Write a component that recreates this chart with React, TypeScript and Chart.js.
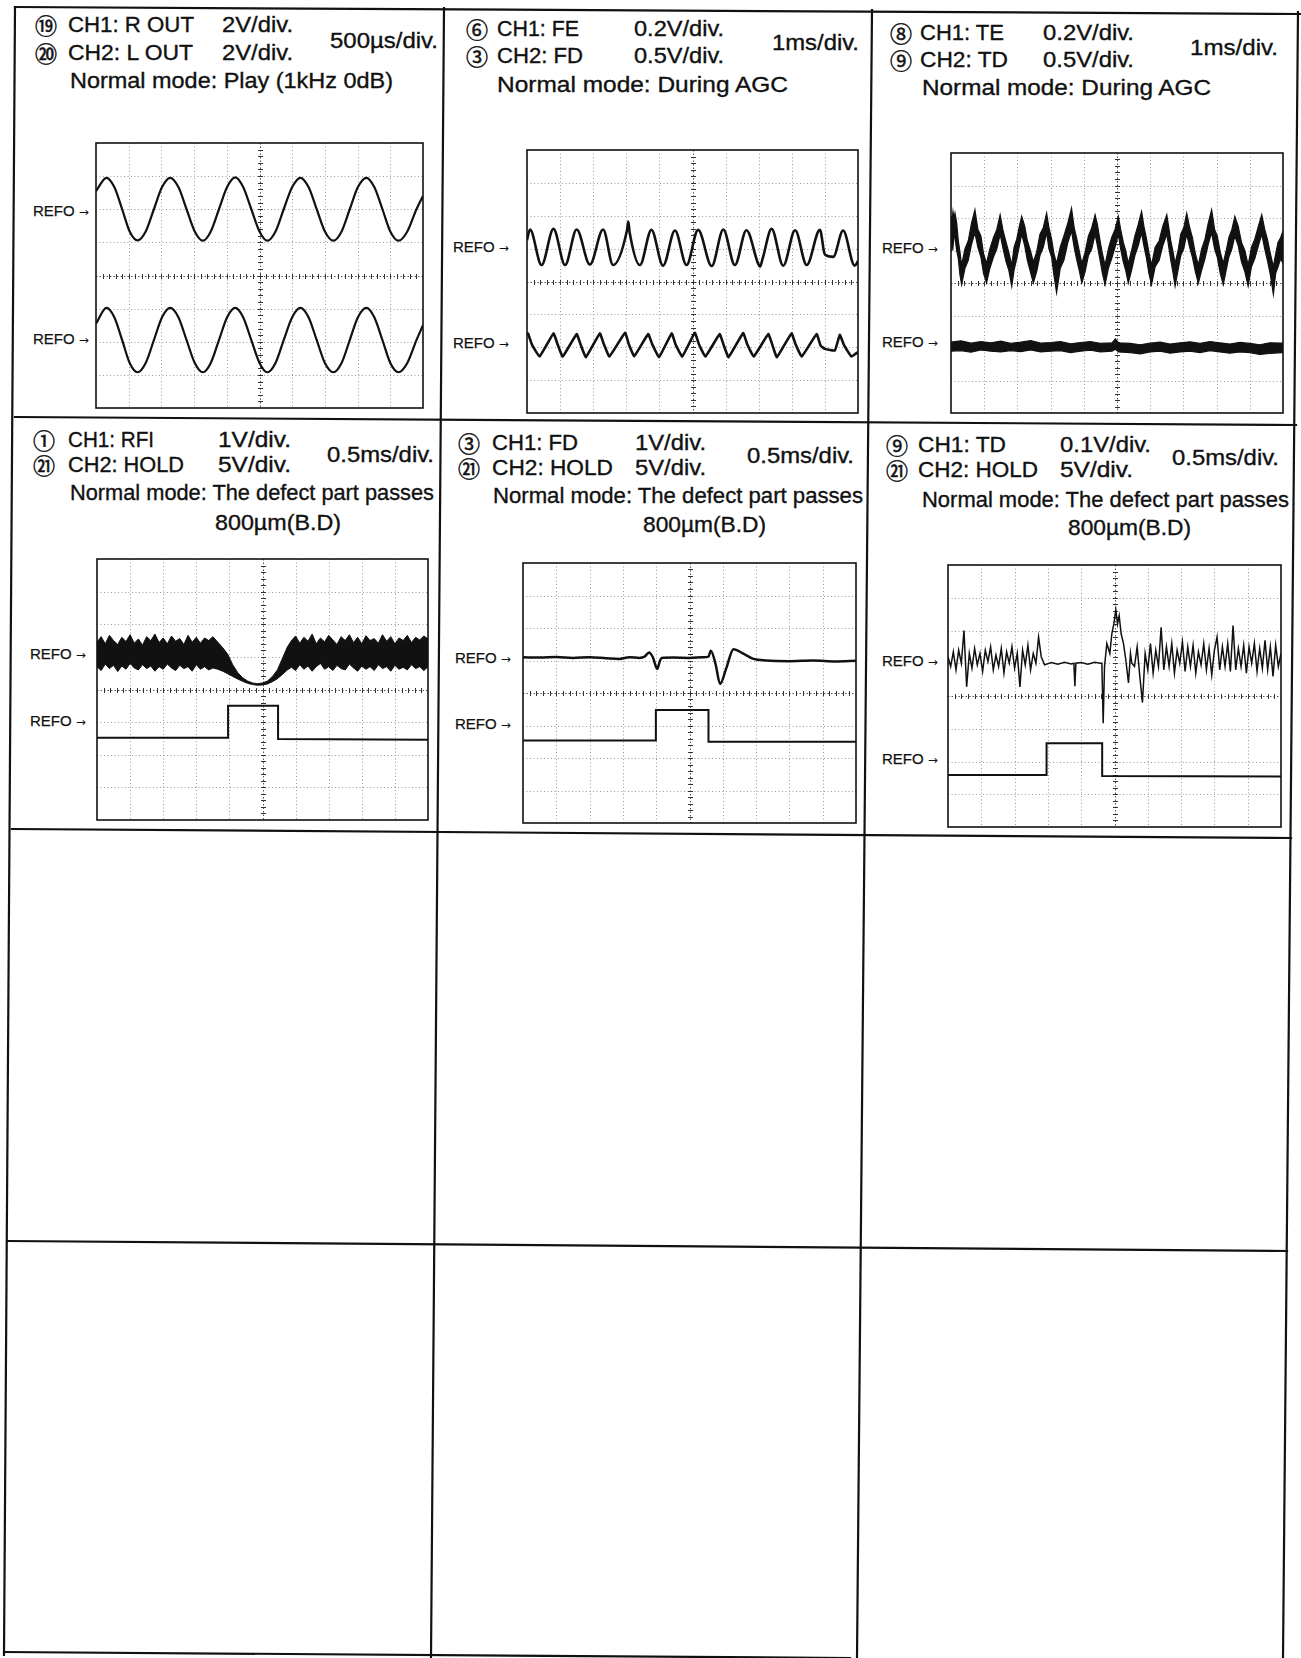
import React, { useEffect, useLayoutEffect, useRef } from "react";
import { Chart, registerables } from "chart.js";

Chart.register(...registerables);

// ================= DATA (x: time in divisions 0..10, y: divisions -4..4) =================
// Panel 1 — CH1 R OUT / CH2 L OUT, 1 kHz sine, 500µs/div
const P1_T = [0, 0.32, 0.56, 0.8, 1.03, 1.27, 1.52, 1.77, 2.02, 2.27, 2.52, 2.77, 3.02, 3.27, 3.51, 3.76, 4.01, 4.26, 4.5, 4.75, 5.0, 5.24, 5.49, 5.74, 6.0, 6.25, 6.5, 6.75, 7.0, 7.26, 7.51, 7.76, 8.01, 8.27, 8.51, 8.76, 9.0, 9.25, 9.52, 9.8, 10];
const P1_ROUT = [2.55, 2.95, 2.67, 2.0, 1.33, 1.06, 1.33, 2.0, 2.67, 2.95, 2.67, 2.0, 1.33, 1.05, 1.33, 2.0, 2.67, 2.96, 2.67, 2.0, 1.33, 1.05, 1.33, 2.0, 2.67, 2.95, 2.67, 2.0, 1.33, 1.05, 1.33, 2.0, 2.67, 2.95, 2.67, 2.0, 1.33, 1.05, 1.33, 2.0, 2.4];
const P1_LOUT = [-1.45, -0.98, -1.26, -1.95, -2.64, -2.92, -2.64, -1.95, -1.26, -0.98, -1.26, -1.95, -2.64, -2.92, -2.64, -1.95, -1.26, -0.98, -1.26, -1.95, -2.64, -2.92, -2.64, -1.95, -1.26, -0.98, -1.26, -1.95, -2.64, -2.92, -2.64, -1.95, -1.26, -0.98, -1.26, -1.95, -2.64, -2.92, -2.64, -1.95, -1.5];

// Panel 2 — CH1 FE / CH2 FD during AGC
const P2_FE_T = [0, 0.09, 0.44, 0.8, 1.15, 1.5, 1.9, 2.3, 2.6, 3.02, 3.06, 3.1, 3.41, 3.76, 4.11, 4.47, 4.82, 5.17, 5.58, 5.93, 6.28, 6.63, 6.98, 7.04, 7.12, 7.39, 7.74, 8.1, 8.45, 8.85, 9.0, 9.25, 9.55, 9.9, 10];
const P2_FE = [1.26, 1.58, 0.5, 1.6, 0.5, 1.58, 0.52, 1.58, 0.5, 1.55, 1.82, 1.5, 0.5, 1.57, 0.48, 1.55, 0.5, 1.57, 0.47, 1.58, 0.5, 1.56, 0.55, 0.45, 0.7, 1.6, 0.48, 1.56, 0.5, 1.57, 0.82, 0.75, 1.55, 0.48, 0.62];
const P2_FD_T = [0, 0.03, 0.15, 0.38, 0.8, 0.92, 1.08, 1.5, 1.62, 1.78, 2.2, 2.32, 2.49, 2.96, 3.08, 3.24, 3.66, 3.78, 3.99, 4.37, 4.49, 4.69, 5.07, 5.19, 5.39, 5.82, 5.94, 6.09, 6.53, 6.65, 6.85, 7.29, 7.41, 7.55, 7.99, 8.11, 8.3, 8.75, 8.87, 9.0, 9.3, 9.45, 9.57, 9.8, 10];
const P2_FD = [-1.62, -1.58, -1.92, -2.28, -1.58, -1.9, -2.28, -1.6, -1.92, -2.3, -1.58, -1.9, -2.28, -1.56, -1.92, -2.27, -1.6, -1.9, -2.3, -1.58, -1.92, -2.28, -1.56, -1.9, -2.28, -1.6, -1.93, -2.3, -1.57, -1.9, -2.28, -1.6, -1.92, -2.3, -1.58, -1.9, -2.28, -1.6, -1.95, -2.05, -2.1, -1.62, -1.92, -2.28, -2.15];

// Panel 3 — CH1 TE (noisy band: upper / lower edge) / CH2 TD
const P3_TE_T = [
  0, 0.03, 0.06, 0.09, 0.12, 0.17, 0.22, 0.27, 0.32, 0.42, 0.52, 0.62, 0.72, 0.81, 0.9, 0.98,
  1.07, 1.17, 1.28, 1.38, 1.48, 1.57, 1.66, 1.74, 1.83, 1.9, 1.98, 2.06, 2.13, 2.22, 2.3, 2.39,
  2.48, 2.58, 2.68, 2.78, 2.88, 2.95, 3.03, 3.1, 3.18, 3.29, 3.4, 3.52, 3.63, 3.71, 3.78, 3.86,
  3.94, 4.04, 4.14, 4.24, 4.34, 4.41, 4.49, 4.56, 4.64, 4.74, 4.84, 4.94, 5.04, 5.11, 5.19, 5.26,
  5.34, 5.44, 5.54, 5.64, 5.74, 5.81, 5.89, 5.96, 6.04, 6.15, 6.27, 6.38, 6.5, 6.56, 6.62, 6.69,
  6.75, 6.84, 6.92, 7.01, 7.1, 7.19, 7.27, 7.36, 7.45, 7.55, 7.65, 7.75, 7.85, 7.94, 8.02, 8.11,
  8.2, 8.29, 8.37, 8.46, 8.55, 8.65, 8.75, 8.85, 8.95, 9.05, 9.15, 9.26, 9.36, 9.45, 9.53, 9.62,
  9.71, 9.78, 9.85, 9.93, 10,
];
const P3_TE_HI = [
  2.05, 1.9, 2.2, 2.0, 2.15, 1.85, 1.3, 0.95, 0.55, 1.05, 1.3, 1.85, 2.25, 1.65, 1.45, 0.9,
  0.6, 1.05, 1.4, 1.65, 2.1, 1.6, 1.25, 0.95, 0.55, 1.1, 1.35, 1.75, 2.05, 1.75, 1.3, 1.0,
  0.65, 0.95, 1.5, 1.7, 2.15, 1.7, 1.35, 0.9, 0.6, 1.1, 1.45, 1.85, 2.3, 1.7, 1.4, 1.0,
  0.6, 0.95, 1.45, 1.7, 2.1, 1.8, 1.3, 0.9, 0.55, 1.05, 1.4, 1.65, 2.05, 1.65, 1.25, 1.0,
  0.6, 1.0, 1.45, 1.8, 2.2, 1.75, 1.35, 0.95, 0.55, 1.1, 1.3, 1.75, 2.1, 1.7, 1.3, 0.95,
  0.6, 1.0, 1.5, 1.7, 2.15, 1.7, 1.4, 0.9, 0.55, 1.05, 1.35, 1.85, 2.25, 1.65, 1.45, 0.95,
  0.6, 1.0, 1.4, 1.65, 2.05, 1.75, 1.25, 1.0, 0.55, 1.1, 1.35, 1.75, 2.1, 1.65, 1.35, 0.9,
  0.5, 0.9, 1.25, 1.4, 1.6,
];
const P3_TE_LO = [
  1.0, 1.25, 1.1, 1.45, 1.4, 1.0, 0.75, 0.25, -0.05, 0.45, 0.7, 1.2, 1.55, 1.1, 0.8, 0.3,
  0.0, 0.45, 0.8, 1.05, 1.5, 1.05, 0.65, 0.4, -0.1, 0.4, 0.75, 1.15, 1.5, 1.15, 0.7, 0.35,
  0.0, 0.35, 0.85, 1.1, 1.55, 1.05, 0.8, 0.25, -0.3, 0.45, 0.7, 1.25, 1.6, 1.1, 0.75, 0.4,
  0.0, 0.35, 0.85, 1.05, 1.5, 1.15, 0.7, 0.3, -0.05, 0.45, 0.75, 1.1, 1.5, 1.05, 0.65, 0.4,
  0.0, 0.4, 0.85, 1.15, 1.55, 1.15, 0.75, 0.3, -0.05, 0.5, 0.7, 1.15, 1.5, 1.1, 0.7, 0.3,
  -0.1, 0.4, 0.85, 1.05, 1.5, 1.1, 0.8, 0.35, 0.0, 0.4, 0.75, 1.2, 1.55, 1.05, 0.8, 0.3,
  -0.05, 0.4, 0.8, 1.05, 1.45, 1.15, 0.65, 0.35, -0.1, 0.5, 0.75, 1.15, 1.5, 1.05, 0.7, 0.25,
  -0.35, 0.3, 0.5, 0.75, 0.6,
];
const P3_TD_T = [0, 0.3, 0.6, 0.9, 1.2, 1.5, 1.8, 2.1, 2.4, 2.7, 3.0, 3.3, 3.6, 3.9, 4.2, 4.5, 4.85, 4.95, 5.05, 5.4, 5.7, 6.0, 6.3, 6.6, 6.9, 7.2, 7.5, 7.8, 8.1, 8.4, 8.7, 9.0, 9.3, 9.6, 10];
const P3_TD_HI = [-1.82, -1.78, -1.85, -1.8, -1.84, -1.79, -1.86, -1.82, -1.77, -1.85, -1.83, -1.8, -1.87, -1.83, -1.8, -1.86, -1.84, -1.72, -1.84, -1.86, -1.9, -1.85, -1.82, -1.88, -1.84, -1.81, -1.86, -1.8, -1.84, -1.88, -1.83, -1.86, -1.9, -1.84, -1.85];
const P3_TD_LO = [-2.1, -2.08, -2.13, -2.06, -2.1, -2.12, -2.08, -2.11, -2.06, -2.12, -2.1, -2.08, -2.14, -2.1, -2.07, -2.12, -2.1, -2.04, -2.12, -2.14, -2.18, -2.12, -2.1, -2.16, -2.12, -2.1, -2.14, -2.08, -2.12, -2.16, -2.12, -2.14, -2.2, -2.17, -2.14];

// Panel 4 — CH1 RFI (envelope) / CH2 HOLD
const P4_RFI_STEP = 0.125;
const P4_RFI_L0 = 0;
const P4_RFI_L_HI = [1.45, 1.62, 1.4, 1.66, 1.5, 1.38, 1.6, 1.47, 1.68, 1.42, 1.55, 1.36, 1.62, 1.5, 1.7, 1.44, 1.58, 1.4, 1.64, 1.48, 1.56, 1.38, 1.66, 1.45, 1.6, 1.42, 1.58, 1.5, 1.62];
const P4_RFI_L_LO = [0.7, 0.58, 0.78, 0.64, 0.74, 0.55, 0.72, 0.62, 0.8, 0.66, 0.6, 0.76, 0.64, 0.72, 0.56, 0.7, 0.62, 0.78, 0.66, 0.58, 0.74, 0.64, 0.7, 0.56, 0.76, 0.62, 0.7, 0.6, 0.66];
const P4_RFI_DIP_T = [3.65, 3.8, 3.95, 4.1, 4.25, 4.4, 4.55, 4.7, 4.85, 5.0, 5.15, 5.3, 5.45, 5.6, 5.75];
const P4_RFI_DIP_HI = [1.45, 1.28, 1.08, 0.76, 0.52, 0.36, 0.26, 0.2, 0.18, 0.2, 0.26, 0.4, 0.6, 0.95, 1.3];
const P4_RFI_DIP_LO = [0.62, 0.56, 0.48, 0.4, 0.32, 0.25, 0.19, 0.15, 0.13, 0.14, 0.17, 0.24, 0.33, 0.46, 0.6];
const P4_RFI_R0 = 5.875;
const P4_RFI_R_HI = [1.5, 1.64, 1.42, 1.6, 1.48, 1.7, 1.4, 1.58, 1.46, 1.66, 1.52, 1.38, 1.62, 1.5, 1.68, 1.44, 1.6, 1.4, 1.65, 1.5, 1.56, 1.42, 1.68, 1.48, 1.62, 1.4, 1.58, 1.5, 1.66, 1.44, 1.6, 1.52, 1.64, 1.55];
const P4_RFI_R_LO = [0.68, 0.58, 0.76, 0.62, 0.72, 0.56, 0.7, 0.8, 0.62, 0.7, 0.58, 0.74, 0.64, 0.6, 0.78, 0.66, 0.56, 0.72, 0.62, 0.7, 0.58, 0.76, 0.64, 0.7, 0.56, 0.74, 0.62, 0.68, 0.6, 0.76, 0.64, 0.7, 0.58, 0.7];
const P4_HOLD_T = [0, 3.96, 3.96, 5.47, 5.47, 10];
const P4_HOLD = [-1.48, -1.48, -0.5, -0.5, -1.52, -1.54];

// Panel 5 — CH1 FD / CH2 HOLD
const P5_FD_T = [0, 0.5, 1.0, 1.5, 2.0, 2.5, 2.9, 3.2, 3.5, 3.65, 3.79, 3.9, 4.03, 4.1, 4.16, 4.5, 5.0, 5.4, 5.57, 5.64, 5.78, 5.92, 6.1, 6.32, 6.6, 6.92, 7.3, 8.0, 8.7, 9.4, 10];
const P5_FD = [1.1, 1.09, 1.11, 1.08, 1.1, 1.07, 1.05, 1.1, 1.08, 1.12, 1.25, 1.1, 0.74, 0.95, 1.08, 1.09, 1.08, 1.1, 1.12, 1.3, 0.9, 0.28, 0.75, 1.35, 1.22, 1.05, 1.0, 0.98, 1.0, 0.97, 0.99];
const P5_HOLD_T = [0, 3.99, 3.99, 5.57, 5.57, 10];
const P5_HOLD = [-1.46, -1.46, -0.52, -0.52, -1.5, -1.5];

// Panel 6 — CH1 TD (noisy) / CH2 HOLD
const P6_TD_STEP = 0.08;
const P6_TD_A0 = 0;
const P6_TD_A = [1.2, 0.9, 1.35, 0.8, 1.4, 1.0, 2.0, 0.28, 1.3, 0.85, 1.45, 0.95, 1.3, 0.75, 1.4, 1.05, 1.5, 0.8, 1.25, 0.9, 1.45, 0.7, 1.35, 1.0, 1.5, 0.85, 1.3, 0.28, 1.4, 0.95, 1.55, 0.8, 1.3, 1.0, 1.8, 1.2];
const P6_TD_MID_T = [2.9, 3.1, 3.3, 3.5, 3.7, 3.78, 3.81, 3.84, 4.0, 4.2, 4.4, 4.58, 4.62, 4.66, 4.7, 4.77, 4.86, 4.92, 4.98, 5.04, 5.09, 5.14, 5.2, 5.27, 5.34, 5.42, 5.48, 5.52];
const P6_TD_MID = [0.95, 1.02, 0.97, 1.03, 0.98, 1.0, 0.3, 1.0, 1.02, 0.97, 1.03, 1.0, 1.0, -0.83, 0.9, 1.6, 1.3, 1.9, 2.2, 2.63, 2.2, 2.45, 1.9, 1.6, 1.1, 0.4, 1.3, 1.0];
const P6_TD_B0 = 5.6;
const P6_TD_B = [0.9, 1.5, 0.6, -0.2, 1.3, 0.8, 1.6, 0.7, 1.4, 0.9, 2.1, 0.8, 1.5, 0.9, 1.6, 0.7, 1.4, 1.0, 1.65, 0.75, 1.5, 0.9, 1.55, 0.7, 1.35, 0.95, 1.6, 0.8, 1.45, 0.65, 1.4, 1.8, 0.8, 1.5, 0.9, 1.6, 0.75, 2.15, 0.8, 1.45, 0.9, 1.55, 0.7, 1.5, 1.0, 1.6, 0.75, 1.45, 0.85, 1.7, 0.8, 1.5, 0.6, 1.55, 0.9, 1.3];
const P6_HOLD_T = [0, 2.96, 2.96, 4.63, 4.63, 10];
const P6_HOLD = [-2.41, -2.41, -1.44, -1.44, -2.44, -2.46];

// ================= LAYOUT =================
const FONT = '"Liberation Sans", Arial, Helvetica, sans-serif';
const CIRC_FONT = '"Noto Sans CJK JP", "DejaVu Sans", sans-serif';
const INK = "#111";
const PAD = 3;

// page frame lines [x1, y1, x2, y2]
const FRAME = [
  [15, 7, 1301, 14],
  [15, 7, 4, 1655],
  [444, 8, 431, 1658],
  [872, 10, 857, 1658],
  [1298, 12, 1283, 1658],
  [15, 417, 1296, 425],
  [12, 829, 1291, 838],
  [8, 1241, 1287, 1251],
  [4, 1652, 850, 1658],
];

// header text [text, left, capTop, inkWidth]
const HEADERS: [string, number, number, number][] = [
  ["CH1: R OUT", 68, 17, 126], ["2V/div.", 222, 17, 71],
  ["CH2: L OUT", 68, 45, 125], ["2V/div.", 222, 45, 71],
  ["500µs/div.", 330, 33, 108],
  ["Normal mode: Play (1kHz 0dB)", 70, 73, 323],

  ["CH1: FE", 497, 21, 82], ["0.2V/div.", 634, 21, 90],
  ["CH2: FD", 497, 48, 86], ["0.5V/div.", 634, 48, 90],
  ["1ms/div.", 772, 35, 87],
  ["Normal mode: During AGC", 497, 77, 291],

  ["CH1: TE", 920, 25, 84], ["0.2V/div.", 1043, 25, 91],
  ["CH2: TD", 920, 52, 88], ["0.5V/div.", 1043, 52, 91],
  ["1ms/div.", 1190, 40, 88],
  ["Normal mode: During AGC", 922, 80, 289],

  ["CH1: RFI", 68, 432, 86], ["1V/div.", 218, 432, 73],
  ["CH2: HOLD", 68, 457, 116], ["5V/div.", 218, 457, 73],
  ["0.5ms/div.", 327, 447, 107],
  ["Normal mode: The defect part passes", 70, 485, 364],
  ["800µm(B.D)", 215, 515, 126],

  ["CH1: FD", 492, 435, 86], ["1V/div.", 635, 435, 71],
  ["CH2: HOLD", 492, 460, 121], ["5V/div.", 635, 460, 71],
  ["0.5ms/div.", 747, 448, 107],
  ["Normal mode: The defect part passes", 493, 488, 370],
  ["800µm(B.D)", 643, 517, 123],

  ["CH1: TD", 918, 437, 88], ["0.1V/div.", 1060, 437, 91],
  ["CH2: HOLD", 918, 462, 120], ["5V/div.", 1060, 462, 73],
  ["0.5ms/div.", 1172, 450, 107],
  ["Normal mode: The defect part passes", 922, 492, 367],
  ["800µm(B.D)", 1068, 520, 123],
];

const CIRCLES: [string, number, number][] = [
  ["⑲", 35, 17], ["⑳", 35, 45],
  ["⑥", 466, 21], ["③", 466, 48],
  ["⑧", 890, 25], ["⑨", 890, 52],
  ["①", 33, 432], ["㉑", 33, 457],
  ["③", 458, 435], ["㉑", 458, 460],
  ["⑨", 886, 437], ["㉑", 886, 462],
];

// REFO markers [left, centerY]
const REFOS: [number, number][] = [
  [33, 210], [33, 338],
  [453, 246], [453, 342],
  [882, 247], [882, 341],
  [30, 653], [30, 720],
  [455, 657], [455, 723],
  [882, 660], [882, 758],
];

// ================= CHART HELPERS =================
const pts = (t: number[], v: number[]) => v.map((y, i) => ({ x: t[i], y }));
const evenPts = (x0: number, step: number, v: number[]) =>
  v.map((y, i) => ({ x: +(x0 + i * step).toFixed(3), y }));

const line = (data: any[], width: number, extra: any = {}) => ({
  data,
  borderColor: INK,
  borderWidth: width,
  pointRadius: 0,
  fill: false,
  tension: 0,
  ...extra,
});

const band = (hi: any[], lo: any[], width = 1) => [
  { data: hi, borderColor: INK, backgroundColor: INK, borderWidth: width, pointRadius: 0, tension: 0, fill: "+1" },
  { data: lo, borderColor: INK, borderWidth: width, pointRadius: 0, tension: 0, fill: false },
];

const graticule = {
  id: "graticule",
  beforeDatasetsDraw(chart: any) {
    const { ctx, chartArea: a, scales } = chart;
    const xs = scales.x, ys = scales.y;
    ctx.save();
    ctx.lineWidth = 1;
    ctx.strokeStyle = "#9a9a9a";
    ctx.setLineDash([1, 2.5]);
    ctx.beginPath();
    for (let i = 1; i < 10; i++) {
      if (i === 5) continue;
      const px = Math.round(xs.getPixelForValue(i)) + 0.5;
      ctx.moveTo(px, a.top); ctx.lineTo(px, a.bottom);
    }
    for (let j = -3; j <= 3; j++) {
      if (j === 0) continue;
      const py = Math.round(ys.getPixelForValue(j)) + 0.5;
      ctx.moveTo(a.left, py); ctx.lineTo(a.right, py);
    }
    ctx.stroke();
    const cx = Math.round(xs.getPixelForValue(5)) + 0.5;
    const cy = Math.round(ys.getPixelForValue(0)) + 0.5;
    ctx.strokeStyle = "#555";
    ctx.setLineDash([1.5, 2]);
    ctx.beginPath();
    ctx.moveTo(cx, a.top); ctx.lineTo(cx, a.bottom);
    ctx.moveTo(a.left, cy); ctx.lineTo(a.right, cy);
    ctx.stroke();
    ctx.setLineDash([]);
    ctx.strokeStyle = "#333";
    ctx.beginPath();
    for (let k = 1; k < 50; k++) {
      const px = Math.round(xs.getPixelForValue(k * 0.2)) + 0.5;
      ctx.moveTo(px, cy - 2.5); ctx.lineTo(px, cy + 2.5);
    }
    for (let k = 1; k < 40; k++) {
      const py = Math.round(ys.getPixelForValue(-4 + k * 0.2)) + 0.5;
      ctx.moveTo(cx - 2.5, py); ctx.lineTo(cx + 2.5, py);
    }
    ctx.stroke();
    ctx.restore();
  },
  afterDraw(chart: any) {
    const { ctx, chartArea: a } = chart;
    ctx.save();
    ctx.strokeStyle = INK;
    ctx.lineWidth = 1.6;
    ctx.strokeRect(a.left, a.top, a.right - a.left, a.bottom - a.top);
    ctx.restore();
  },
};

type Rect = { x: number; y: number; w: number; h: number };

function Scope({ rect, build }: { rect: Rect; build: () => any[] }) {
  const ref = useRef<HTMLCanvasElement>(null);
  useEffect(() => {
    const chart = new Chart(ref.current as HTMLCanvasElement, {
      type: "line",
      data: { datasets: build() },
      options: {
        animation: false,
        responsive: false,
        events: [],
        layout: { padding: PAD },
        plugins: { legend: { display: false }, tooltip: { enabled: false } },
        elements: { point: { radius: 0 } },
        scales: {
          x: { type: "linear", min: 0, max: 10, display: false },
          y: { type: "linear", min: -4, max: 4, display: false },
        },
      } as any,
      plugins: [graticule as any],
    });
    return () => chart.destroy();
  }, []);
  return (
    <canvas
      ref={ref}
      width={rect.w + 2 * PAD}
      height={rect.h + 2 * PAD}
      style={{ position: "absolute", left: rect.x - PAD, top: rect.y - PAD, width: rect.w + 2 * PAD, height: rect.h + 2 * PAD }}
    />
  );
}

const SCOPES: { rect: Rect; build: () => any[] }[] = [
  {
    rect: { x: 96, y: 143, w: 327, h: 265 },
    build: () => [
      line(pts(P1_T, P1_ROUT), 2.2, { cubicInterpolationMode: "monotone" }),
      line(pts(P1_T, P1_LOUT), 2.2, { cubicInterpolationMode: "monotone" }),
    ],
  },
  {
    rect: { x: 527, y: 150, w: 331, h: 263 },
    build: () => [
      line(pts(P2_FE_T, P2_FE), 2.6, { cubicInterpolationMode: "monotone" }),
      line(pts(P2_FD_T, P2_FD), 2.6, { tension: 0.1 }),
    ],
  },
  {
    rect: { x: 951, y: 153, w: 332, h: 260 },
    build: () => [
      ...band(pts(P3_TE_T, P3_TE_HI), pts(P3_TE_T, P3_TE_LO), 1.2),
      ...band(pts(P3_TD_T, P3_TD_HI), pts(P3_TD_T, P3_TD_LO), 1.2),
    ],
  },
  {
    rect: { x: 97, y: 559, w: 331, h: 261 },
    build: () => [
      ...band(
        [
          ...evenPts(P4_RFI_L0, P4_RFI_STEP, P4_RFI_L_HI),
          ...pts(P4_RFI_DIP_T, P4_RFI_DIP_HI),
          ...evenPts(P4_RFI_R0, P4_RFI_STEP, P4_RFI_R_HI),
        ],
        [
          ...evenPts(P4_RFI_L0, P4_RFI_STEP, P4_RFI_L_LO),
          ...pts(P4_RFI_DIP_T, P4_RFI_DIP_LO),
          ...evenPts(P4_RFI_R0, P4_RFI_STEP, P4_RFI_R_LO),
        ],
        1
      ),
      line(pts(P4_HOLD_T, P4_HOLD), 2),
    ],
  },
  {
    rect: { x: 523, y: 563, w: 333, h: 260 },
    build: () => [
      line(pts(P5_FD_T, P5_FD), 2.5, { cubicInterpolationMode: "monotone" }),
      line(pts(P5_HOLD_T, P5_HOLD), 2),
    ],
  },
  {
    rect: { x: 948, y: 565, w: 333, h: 262 },
    build: () => [
      line(
        [
          ...evenPts(P6_TD_A0, P6_TD_STEP, P6_TD_A),
          ...pts(P6_TD_MID_T, P6_TD_MID),
          ...evenPts(P6_TD_B0, P6_TD_STEP, P6_TD_B),
        ],
        1.5
      ),
      line(pts(P6_HOLD_T, P6_HOLD), 2),
    ],
  },
];

function FitText({ text, x, top, width, size }: { text: string; x: number; top: number; width: number; size: number }) {
  const ref = useRef<HTMLDivElement>(null);
  useLayoutEffect(() => {
    const el = ref.current;
    if (!el) return;
    const nat = el.getBoundingClientRect().width;
    if (nat > 0) el.style.transform = `scaleX(${(width / nat).toFixed(4)})`;
  }, []);
  return (
    <div
      ref={ref}
      style={{
        position: "absolute",
        left: x,
        top,
        fontSize: size,
        lineHeight: 1,
        whiteSpace: "nowrap",
        transformOrigin: "0 0",
        WebkitTextStroke: "0.35px " + INK,
      }}
    >
      {text}
    </div>
  );
}

export default function App() {
  return (
    <div
      style={{
        position: "absolute",
        left: 0,
        top: 0,
        width: 1301,
        height: 1658,
        background: "#fff",
        overflow: "hidden",
        fontFamily: FONT,
        color: INK,
      }}
    >
      <svg width={1301} height={1658} style={{ position: "absolute", left: 0, top: 0 }}>
        {FRAME.map(([x1, y1, x2, y2], i) => (
          <line key={i} x1={x1} y1={y1} x2={x2} y2={y2} stroke={INK} strokeWidth={2.2} strokeLinecap="square" />
        ))}
      </svg>
      {HEADERS.map(([s, x, cap, w], i) => (
        <FitText key={"h" + i} text={s} x={x} top={cap - 3} width={w} size={22.5} />
      ))}
      {CIRCLES.map(([s, x, cap], i) => (
        <div
          key={"c" + i}
          style={{
            position: "absolute",
            left: x,
            top: cap - 4,
            fontSize: 22,
            lineHeight: 1,
            fontFamily: CIRC_FONT,
            whiteSpace: "nowrap",
            WebkitTextStroke: "0.5px " + INK,
          }}
        >
          {s}
        </div>
      ))}
      {REFOS.map(([x, cy], i) => (
        <div
          key={"r" + i}
          style={{
            position: "absolute",
            left: x,
            top: cy - 7.5,
            fontSize: 15,
            lineHeight: 1,
            whiteSpace: "nowrap",
            WebkitTextStroke: "0.25px " + INK,
          }}
        >
          REFO
          <span style={{ fontFamily: '"DejaVu Sans", sans-serif', fontSize: 12, marginLeft: 4, WebkitTextStroke: "0px" }}>→</span>
        </div>
      ))}
      {SCOPES.map((s, i) => (
        <Scope key={i} rect={s.rect} build={s.build} />
      ))}
    </div>
  );
}
